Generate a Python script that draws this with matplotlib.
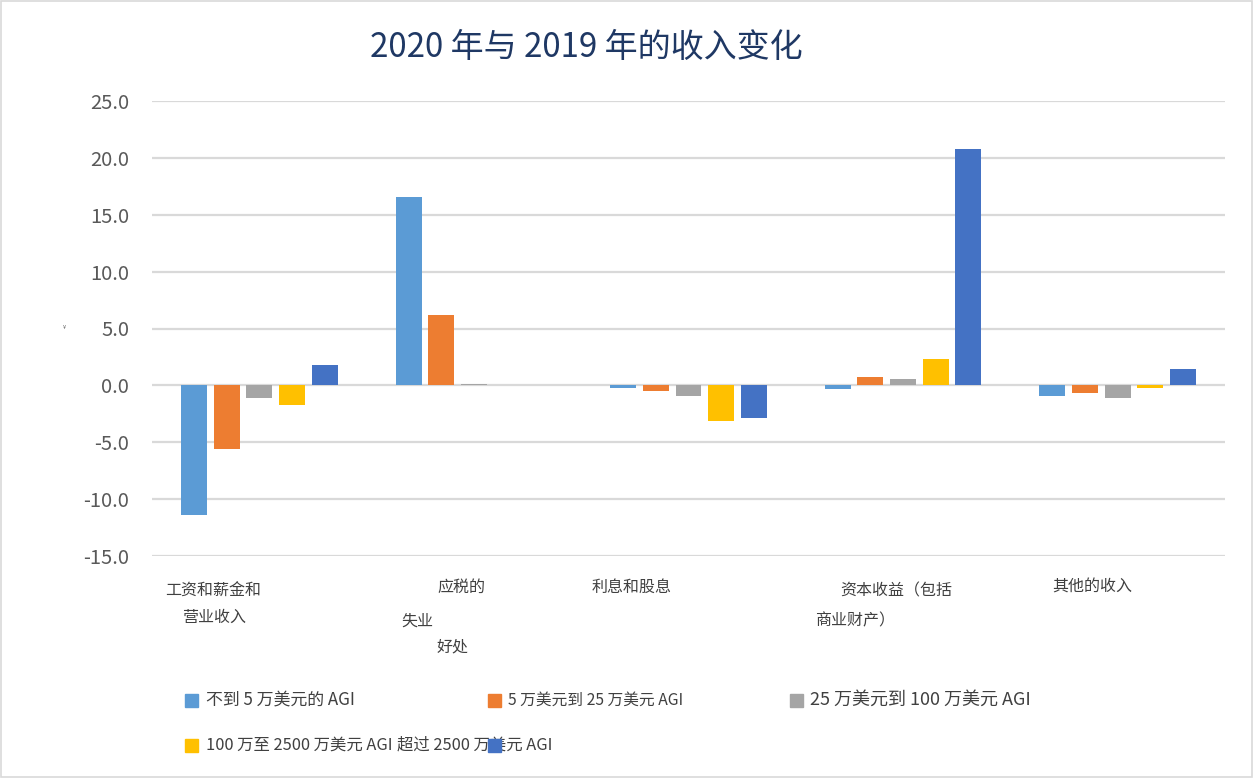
import matplotlib
matplotlib.use("Agg")
import matplotlib.pyplot as plt
from matplotlib.patches import Rectangle
import numpy as np

plt.rcParams['font.family'] = ['Noto Sans CJK SC', 'DejaVu Sans']

# ---- data ----
categories = ["工资和薪金和营业收入", "应税的失业好处", "利息和股息", "资本收益（包括商业财产）", "其他的收入"]
series_names = ["不到 5 万美元的 AGI", "5 万美元到 25 万美元 AGI", "25 万美元到 100 万美元 AGI",
                "100 万至 2500 万美元 AGI", "超过 2500 万美元 AGI"]
under_50k = [-11.4, 16.6, -0.25, -0.35, -0.9]
k50_to_250k = [-5.6, 6.2, -0.5, 0.7, -0.7]
k250_to_1m = [-1.15, 0.15, -0.9, 0.6, -1.15]
m1_to_25m = [-1.7, 0.0, -3.1, 2.35, -0.25]
over_25m = [1.8, 0.0, -2.9, 20.75, 1.4]
yticks = [-15, -10, -5, 0, 5, 10, 15, 20, 25]
title = "2020 年与 2019 年的收入变化"

series = [under_50k, k50_to_250k, k250_to_1m, m1_to_25m, over_25m]
colors = ["#5B9BD5", "#ED7D31", "#A5A5A5", "#FFC000", "#4472C4"]

W, H = 1253, 778
fig = plt.figure(figsize=(W / 100, H / 100), dpi=100)
fig.patch.set_facecolor("white")

def fx(px):
    return px / W

def fy(py):
    return 1 - py / H

ax = fig.add_axes([fx(152), fy(556), fx(1225) - fx(152), fy(101) - fy(556)])
x = np.arange(len(categories))
width = 0.121
pitch = 0.152
for i, (vals, c) in enumerate(zip(series, colors)):
    ax.bar(x + (i - 2) * pitch, vals, width=width, color=c, zorder=3)

ax.set_xlim(-0.5, len(categories) - 0.5)
ax.set_ylim(-15, 25)
ax.set_yticks(yticks)
ax.set_yticklabels([f"{v:.1f}" for v in yticks], fontsize=14.5, color="#595959")
ax.tick_params(axis='y', length=0, pad=16.5)
ax.set_xticks([])
ax.grid(axis='y', color="#D9D9D9", linewidth=1.6, zorder=0)
for s in ax.spines.values():
    s.set_visible(False)

# tiny y-axis label
fig.text(fx(64), fy(328), "¥", fontsize=4, color="#595959", ha='center', va='center')

# title
fig.text(fx(370), fy(48), title, fontsize=23.8, color="#1F3864", ha='left', va='center')

# category labels (split across lines as in the reference)
label_lines = [
    ("工资和薪金和", 165, 591), ("营业收入", 182, 617),
    ("应税的", 437, 587), ("失业", 401, 621), ("好处", 437, 647),
    ("利息和股息", 592, 587),
    ("资本收益（包括", 840, 591), ("商业财产）", 815, 621),
    ("其他的收入", 1052, 587),
]
for txt, px, py in label_lines:
    fig.text(fx(px), fy(py), txt, fontsize=11.5, color="#404040", ha='left', va='center')

# legend
legend_items = [
    (0, 185, 700, 206, 12.2),
    (1, 488, 700, 508, 11.3),
    (2, 790, 700, 810, 13.0),
    (3, 185, 745, 206, 11.8),
]
for idx, mx, my, tx, fs in legend_items:
    fig.patches.append(Rectangle((fx(mx), fy(my + 6.5)), 13 / W, 13 / H,
                                 transform=fig.transFigure, color=colors[idx], zorder=5))
    fig.text(fx(tx), fy(my), series_names[idx], fontsize=fs, color="#404040",
             ha='left', va='center', zorder=4)
# last series text follows the yellow one; its marker overlaps text
fig.text(fx(397), fy(745), series_names[4], fontsize=11.8, color="#404040",
         ha='left', va='center', zorder=4)
fig.patches.append(Rectangle((fx(488), fy(751.5)), 13 / W, 13 / H,
                             transform=fig.transFigure, color=colors[4], zorder=6))

# outer border
fig.patches.append(Rectangle((0.0008, 0.0013), 0.9984, 0.9974, transform=fig.transFigure,
                             fill=False, edgecolor="#D9D9D9", linewidth=1.2))

fig.savefig("out.png", dpi=100, facecolor="white")
